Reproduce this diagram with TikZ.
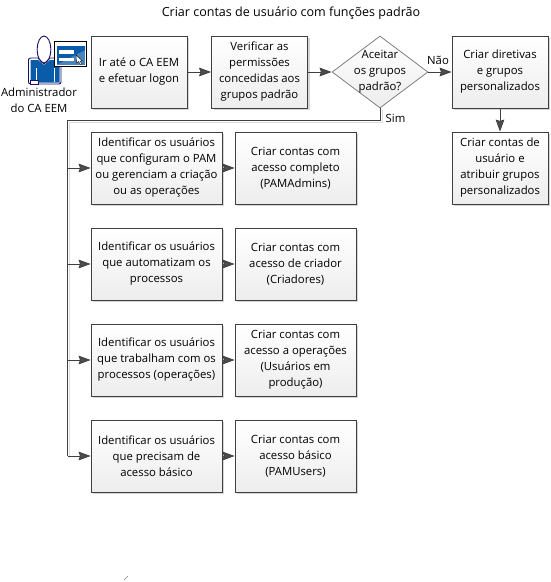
\documentclass[tikz,border=0pt]{standalone}
\usepackage{fontspec}
\setmainfont{Open Sans}
\usetikzlibrary{arrows.meta,shapes.geometric,shadows}

\begin{document}
\begin{tikzpicture}[
  x=0.75pt, y=-0.75pt,
  font=\fontsize{8.5pt}{12pt}\selectfont,
  box/.style={draw=black!75, line width=0.6pt, top color=white, bottom color=black!7,
              align=center, inner sep=0pt, minimum height=54pt,
              drop shadow={shadow xshift=1.6pt, shadow yshift=-1.6pt, fill=black!16, opacity=1}},
  task/.style={box, minimum width=72pt},
  who/.style={box, minimum width=98.25pt},
  acct/.style={box, minimum width=90.75pt},
  ask/.style={diamond, draw=black!50, line width=0.6pt, top color=white, bottom color=black!7,
              inner sep=0pt, minimum width=72pt, minimum height=54pt, aspect=1.333},
  arr/.style={-{Stealth[length=9pt, width=6.5pt, inset=1pt, fill=black!70]}, line width=0.6pt, draw=black!75},
  bus/.style={line width=0.6pt, draw=black!75,
              preaction={draw=black!14, transform canvas={shift={(1.4pt,-1.4pt)}}}},
  lab/.style={inner sep=1pt}
]
\useasboundingbox (0,0) rectangle (550,582);

\node[lab, font=\fontsize{9.4pt}{12pt}\selectfont] (title) at (291,13) {Criar contas de usuário com funções padrão};

% ---------------- top row ----------------
\node[task] (login) at (139,72) {Ir até o CA EEM\\e efetuar logon};
\node[task] (check) at (259.5,72) {Verificar as\\permissões\\concedidas aos\\grupos padrão};
\node[ask, label={[align=center]center:Aceitar\\os grupos\\padrão?}] (accept) at (380,72) {};
\node[task] (custom) at (500,72) {Criar diretivas\\e grupos\\personalizados};
\node[task] (assign) at (500,168) {Criar contas de\\usuário e\\atribuir grupos\\personalizados};

\node[lab] (nao) at (438,60) {Não};
\node[lab] (sim) at (395.5,118) {Sim};

% ---------------- rows ----------------
\node[who] (idadmin) at (156.5,168) {Identificar os usuários\\que configuram o PAM\\ou gerenciam a criação\\ou as operações};
\node[acct] (admin) at (295.5,168) {Criar contas com\\acesso completo\\(PAMAdmins)};
\node[who] (idcreator) at (156.5,264) {Identificar os usuários\\que automatizam os\\processos};
\node[acct] (creator) at (295.5,264) {Criar contas com\\acesso de criador\\(Criadores)};
\node[who] (idoper) at (156.5,360) {Identificar os usuários\\que trabalham com os\\processos (operações)};
\node[acct] (oper) at (295.5,360) {Criar contas com\\acesso a operações\\(Usuários em\\produção)};
\node[who] (idbasic) at (156.5,456) {Identificar os usuários\\que precisam de\\acesso básico};
\node[acct] (basic) at (295.5,456) {Criar contas com\\acesso básico\\(PAMUsers)};

% ---------------- connectors ----------------
\coordinate (busa) at (67.5,120);
\coordinate (busb) at (67.5,456);
\draw[arr] (login) -- (check);
\draw[arr] (check) -- (accept);
\draw[arr] (accept) -- (custom);
\draw[arr] (custom) -- (assign);
\draw[bus] (accept.south) |- (busa) -- (busb);
\foreach \row/\acc in {idadmin/admin, idcreator/creator, idoper/oper, idbasic/basic} {
  \draw[arr] (busa |- \row) -- (\row);
  \draw[arr] (\row) -- (\acc);
}

% ---------------- administrator ----------------
\node[lab, align=center] (adminlab) at (39,100) {Administrador\\do CA EEM};
\definecolor{shirt}{HTML}{0B5CA8}
\definecolor{navy}{HTML}{1B1464}
\begin{scope}[draw=navy, line width=0.7pt]
  \draw[fill=white, rounded corners=1.5pt] (28.5,84) -- (28.5,58) -- (61,58) -- (61,84) -- cycle;
  \fill[shirt] (30.5,82.5) -- (30.5,60) -- (38,60) -- (44,65) -- (50,60) -- (59.5,60) -- (59.5,82.5) -- cycle;
  \draw[white, line width=0.4pt] (36,68) -- (36,80) (54,68) -- (54,82);
  \draw[fill=white] (30,80) rectangle (38.5,84);
  \draw[fill=white] (44,49.5) ellipse (6.8 and 13.5);
  \draw (38,58) -- (44,64) -- (50,58);
\end{scope}
\draw[black, fill=white, line width=0.9pt] (54.5,41.5) rectangle (86.5,66.5);
\fill[shirt!75] (56.5,45.5) rectangle (85,65);
\fill[shirt] (57,46) -- (85,46) -- (85,50) -- (57,64.5) -- cycle;
\fill[white] (58.5,49.5) rectangle (74,53.5);
\fill[white] (58.5,57.5) rectangle (74,61);
\draw[black, fill=white, line width=0.3pt] (76,55) -- (82.5,61) -- (80,61) -- (82,64) -- (80.5,64.5) -- (78.5,61.5) -- (76.5,63) -- cycle;

% ---------------- stray tick ----------------
\coordinate (ticka) at (124,580);
\coordinate (tickb) at (128,576);
\draw[black!50, line width=0.4pt] (ticka) -- (tickb);
\end{tikzpicture}
\end{document}
